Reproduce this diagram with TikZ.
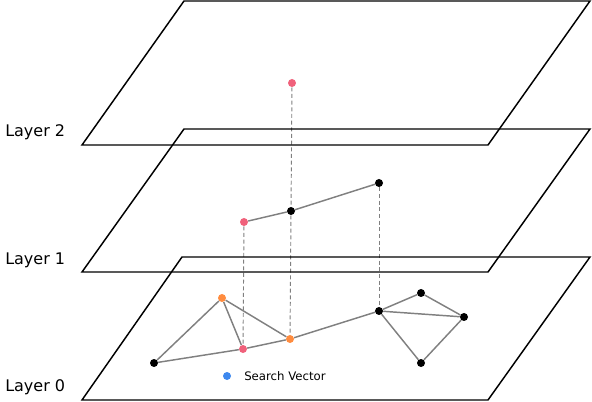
\documentclass[tikz,border=0pt]{standalone}
\usepackage{fontspec}
\setmainfont{DejaVu Sans}
\usetikzlibrary{backgrounds}
\definecolor{hit}{HTML}{F0617B}
\definecolor{cand}{HTML}{FF8C3F}
\definecolor{query}{HTML}{3D88EE}
\definecolor{link}{HTML}{808080}
\tikzset{
  every node/.style={text=black},
  plane/.style={draw=black,line width=1.1pt,line join=miter},
  pt/.style={circle,fill=black,inner sep=0pt,minimum size=6pt},
  hitpt/.style={pt,fill=hit},
  candpt/.style={pt,fill=cand},
  querypt/.style={pt,fill=query},
  edge/.style={draw=link,line width=1.1pt},
  drop/.style={draw=link,line width=0.7pt,dash pattern=on 3pt off 2pt},
  layerlabel/.style={anchor=west,inner sep=0pt,font=\fontsize{12}{14}\selectfont},
  keylabel/.style={anchor=west,inner sep=0pt,font=\fontsize{8.8}{10}\selectfont},
}

\begin{document}
\begin{tikzpicture}[x=0.75pt,y=-0.75pt]
\useasboundingbox (0,0) rectangle (592,402);

% the three layers
\draw[plane] (82,145) -- (184,1) -- (590,1) -- (488,145) -- cycle;
\draw[plane] (82,272) -- (184,129) -- (590,129) -- (488,272) -- cycle;
\draw[plane] (82,400) -- (182,257) -- (590,257) -- (488,400) -- cycle;

\node[layerlabel] (lab2) at (5,132) {Layer 2};
\node[layerlabel] (lab1) at (5,260) {Layer 1};
\node[layerlabel] (lab0) at (5,387.5) {Layer 0};

% layer 2
\node[hitpt] (top) at (292,83) {};

% layer 1
\node[hitpt] (m1) at (244,222) {};
\node[pt] (m2) at (291,211) {};
\node[pt] (m3) at (379,183) {};

% layer 0
\node[pt] (b1) at (154,363) {};
\node[candpt] (b2) at (222,298) {};
\node[hitpt] (b3) at (243,349) {};
\node[candpt] (b4) at (290,339) {};
\node[pt] (b5) at (379,311) {};
\node[pt] (b6) at (421,293) {};
\node[pt] (b7) at (464,317) {};
\node[pt] (b8) at (421,363) {};

\node[querypt] (q) at (227,376) {};
\node[keylabel] (qlab) at (244,376.5) {Search Vector};

\begin{scope}[on background layer]
\draw[drop] (top) -- (m2);
\draw[drop] (m2) -- (b4);
\draw[drop] (m1) -- (b3);
\draw[drop] (m3) -- (b5);

\draw[edge] (m1) -- (m2) -- (m3);

\draw[edge] (b1) -- (b2) -- (b3);
\draw[edge] (b2) -- (b4);
\draw[edge] (b1) -- (b3) -- (b4) -- (b5);
\draw[edge] (b5) -- (b6) -- (b7) -- (b8) -- (b5);
\draw[edge] (b5) -- (b7);
\end{scope}

\end{tikzpicture}
\end{document}
